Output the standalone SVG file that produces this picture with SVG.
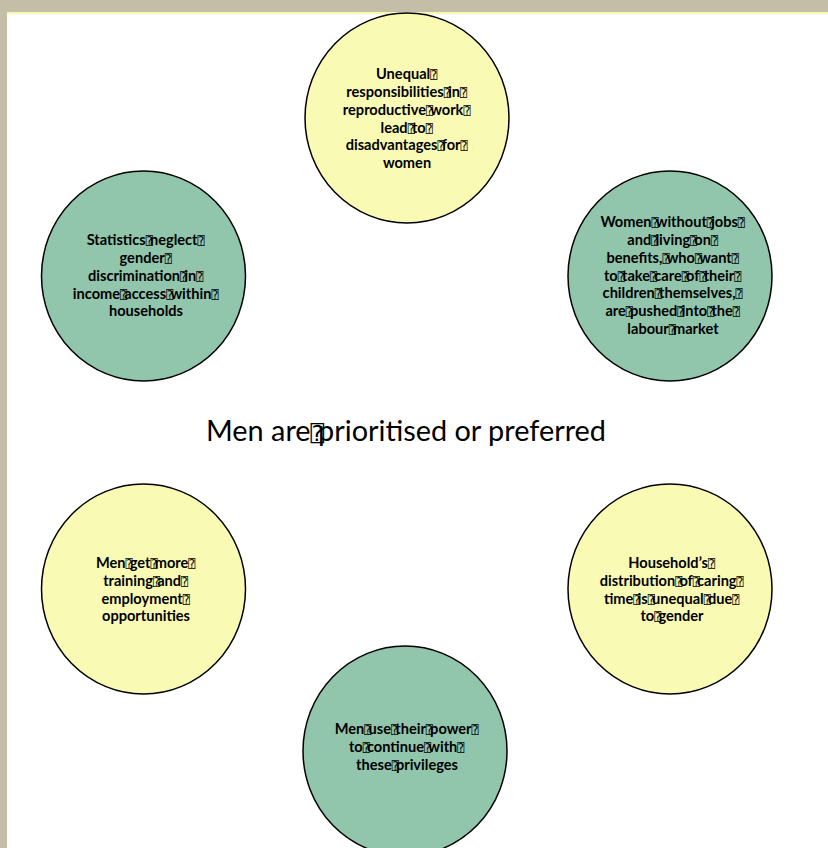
<svg xmlns="http://www.w3.org/2000/svg" width="828" height="848" viewBox="0 0 828 848">
<style>
.yel{fill:#f9fbb4;stroke:#000;stroke-width:1.5}
.grn{fill:#91c6ac;stroke:#000;stroke-width:1.5}
.lbl{font-family:Lato,"Liberation Sans",sans-serif;font-weight:bold;font-size:14.6px;fill:#000;text-anchor:middle}
.q{font-family:"DejaVu Sans Mono","DejaVu Sans",sans-serif;font-weight:normal;font-size:12px;letter-spacing:-3px}
.title{font-family:Lato,"Liberation Sans",sans-serif;font-size:28px;fill:#000;text-anchor:middle}
</style>
<rect x="0" y="0" width="828" height="848" fill="#ffffff"/>
<rect x="0" y="0" width="828" height="12" fill="#c4bea8"/>
<rect x="7" y="12" width="821" height="2.3" fill="#f6f8b4"/>
<rect x="0" y="0" width="7" height="848" fill="#c4bea8"/>
<g id="connectors"></g>
<g id="node-top">
<ellipse class="yel" cx="407" cy="118" rx="102" ry="105"/>
<text class="lbl">
<tspan x="407" y="79">Unequal<tspan class="q">⍰</tspan></tspan>
<tspan x="407" y="97">responsibilities<tspan class="q">⍰</tspan>in<tspan class="q">⍰</tspan></tspan>
<tspan x="407" y="115">reproductive<tspan class="q">⍰</tspan>work<tspan class="q">⍰</tspan></tspan>
<tspan x="407" y="132.5">lead<tspan class="q">⍰</tspan>to<tspan class="q">⍰</tspan></tspan>
<tspan x="407" y="150">disadvantages<tspan class="q">⍰</tspan>for<tspan class="q">⍰</tspan></tspan>
<tspan x="407" y="168">women</tspan>
</text>
</g>
<g id="node-right-upper">
<ellipse class="grn" cx="670" cy="276" rx="102" ry="105"/>
<text class="lbl">
<tspan x="673" y="227">Women<tspan class="q">⍰</tspan>without<tspan class="q">⍰</tspan>jobs<tspan class="q">⍰</tspan></tspan>
<tspan x="673" y="245">and<tspan class="q">⍰</tspan>living<tspan class="q">⍰</tspan>on<tspan class="q">⍰</tspan></tspan>
<tspan x="673" y="263">benefits,<tspan class="q">⍰</tspan>who<tspan class="q">⍰</tspan>want<tspan class="q">⍰</tspan></tspan>
<tspan x="673" y="280.5">to<tspan class="q">⍰</tspan>take<tspan class="q">⍰</tspan>care<tspan class="q">⍰</tspan>of<tspan class="q">⍰</tspan>their<tspan class="q">⍰</tspan></tspan>
<tspan x="673" y="298">children<tspan class="q">⍰</tspan>themselves,<tspan class="q">⍰</tspan></tspan>
<tspan x="673" y="316">are<tspan class="q">⍰</tspan>pushed<tspan class="q">⍰</tspan>into<tspan class="q">⍰</tspan>the<tspan class="q">⍰</tspan></tspan>
<tspan x="673" y="334">labour<tspan class="q">⍰</tspan>market</tspan>
</text>
</g>
<g id="node-right-lower">
<ellipse class="yel" cx="670" cy="589" rx="102" ry="105"/>
<text class="lbl">
<tspan x="672" y="568">Household’s<tspan class="q">⍰</tspan></tspan>
<tspan x="672" y="586">distribution<tspan class="q">⍰</tspan>of<tspan class="q">⍰</tspan>caring<tspan class="q">⍰</tspan></tspan>
<tspan x="672" y="603.5">time<tspan class="q">⍰</tspan>is<tspan class="q">⍰</tspan>unequal<tspan class="q">⍰</tspan>due<tspan class="q">⍰</tspan></tspan>
<tspan x="672" y="621">to<tspan class="q">⍰</tspan>gender</tspan>
</text>
</g>
<g id="node-bottom">
<ellipse class="grn" cx="405" cy="751" rx="102" ry="105"/>
<text class="lbl">
<tspan x="407" y="734">Men<tspan class="q">⍰</tspan>use<tspan class="q">⍰</tspan>their<tspan class="q">⍰</tspan>power<tspan class="q">⍰</tspan></tspan>
<tspan x="407" y="752">to<tspan class="q">⍰</tspan>continue<tspan class="q">⍰</tspan>with<tspan class="q">⍰</tspan></tspan>
<tspan x="407" y="770">these<tspan class="q">⍰</tspan>privileges</tspan>
</text>
</g>
<g id="node-left-lower">
<ellipse class="yel" cx="143.5" cy="589" rx="102" ry="105"/>
<text class="lbl">
<tspan x="146" y="568">Men<tspan class="q">⍰</tspan>get<tspan class="q">⍰</tspan>more<tspan class="q">⍰</tspan></tspan>
<tspan x="146" y="586">training<tspan class="q">⍰</tspan>and<tspan class="q">⍰</tspan></tspan>
<tspan x="146" y="603.5">employment<tspan class="q">⍰</tspan></tspan>
<tspan x="146" y="621">opportunities</tspan>
</text>
</g>
<g id="node-left-upper">
<ellipse class="grn" cx="143.5" cy="276" rx="102" ry="105"/>
<text class="lbl">
<tspan x="146" y="245">Statistics<tspan class="q">⍰</tspan>neglect<tspan class="q">⍰</tspan></tspan>
<tspan x="146" y="263">gender<tspan class="q">⍰</tspan></tspan>
<tspan x="146" y="281">discrimination<tspan class="q">⍰</tspan>in<tspan class="q">⍰</tspan></tspan>
<tspan x="146" y="298.5">income<tspan class="q">⍰</tspan>access<tspan class="q">⍰</tspan>within<tspan class="q">⍰</tspan></tspan>
<tspan x="146" y="316">households</tspan>
</text>
</g>
<g id="center-label">
<text class="title" x="406" y="441" textLength="400" lengthAdjust="spacingAndGlyphs">Men are<tspan style="font-family:'DejaVu Sans Mono','DejaVu Sans',sans-serif;font-size:22px;letter-spacing:-6px">⍰</tspan>prioritised or preferred</text>
</g>
</svg>
